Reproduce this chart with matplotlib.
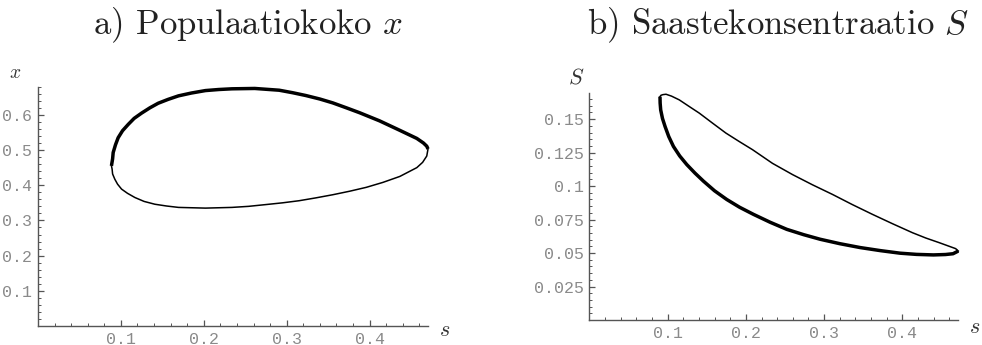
import matplotlib
matplotlib.use("Agg")
import matplotlib.pyplot as plt
from matplotlib.ticker import FixedLocator, FixedFormatter, MultipleLocator

plt.rcParams['mathtext.fontset'] = 'cm'

# ---- data: panel a) (s, x) ----
a_thick_s = [0.0886, 0.0900, 0.0907, 0.0935, 0.0967, 0.1020, 0.1089, 0.1160, 0.125, 0.135,
             0.145, 0.157, 0.1695, 0.185, 0.202, 0.218, 0.234, 0.2615, 0.291, 0.307,
             0.323, 0.340, 0.3556, 0.372, 0.388, 0.412, 0.4365, 0.457, 0.465, 0.469, 0.4705]
a_thick_x = [0.455, 0.475, 0.493, 0.515, 0.535, 0.555, 0.573, 0.590, 0.605, 0.620,
             0.633, 0.644, 0.654, 0.662, 0.669, 0.672, 0.674, 0.675, 0.670, 0.663,
             0.655, 0.645, 0.634, 0.620, 0.606, 0.583, 0.556, 0.533, 0.520, 0.511, 0.503]
a_thin_s = [0.4705, 0.469, 0.464, 0.457, 0.4365, 0.416, 0.396, 0.376, 0.3556, 0.335,
            0.315, 0.295, 0.2747, 0.254, 0.234, 0.202, 0.1695, 0.155, 0.141, 0.128,
            0.117, 0.108, 0.1008, 0.096, 0.0927, 0.090, 0.0894, 0.0886]
a_thin_x = [0.503, 0.483, 0.465, 0.450, 0.425, 0.408, 0.394, 0.383, 0.373, 0.364,
            0.356, 0.350, 0.345, 0.340, 0.337, 0.335, 0.337, 0.341, 0.346, 0.354,
            0.365, 0.377, 0.389, 0.403, 0.417, 0.432, 0.446, 0.455]

# ---- data: panel b) (s, S) ----
b_thick_s = [0.0903, 0.0905, 0.0912, 0.0935, 0.0968, 0.1015, 0.1075, 0.1155, 0.1245, 0.1350,
             0.1458, 0.160, 0.1756, 0.192, 0.2097, 0.231, 0.2523, 0.274, 0.2949, 0.320,
             0.346, 0.372, 0.397, 0.418, 0.4396, 0.455, 0.4647, 0.4714]
b_thick_S = [0.1668, 0.1620, 0.1569, 0.1505, 0.1445, 0.1370, 0.1296, 0.1225, 0.1161, 0.1097,
             0.1037, 0.0965, 0.0900, 0.0842, 0.0789, 0.0730, 0.0677, 0.0637, 0.0603, 0.0570,
             0.0541, 0.0518, 0.0499, 0.0490, 0.0486, 0.0489, 0.0495, 0.0515]
b_thin_s = [0.4714, 0.468, 0.4468, 0.430, 0.4128, 0.387, 0.3617, 0.336, 0.3106, 0.285,
            0.2596, 0.234, 0.2085, 0.1915, 0.1745, 0.1575, 0.1405, 0.1275, 0.1149, 0.105,
            0.098, 0.094, 0.0915, 0.0903]
b_thin_S = [0.0515, 0.0533, 0.0578, 0.0612, 0.0652, 0.0720, 0.0789, 0.0862, 0.0938, 0.1010,
            0.1086, 0.1170, 0.1272, 0.1333, 0.1396, 0.1470, 0.1545, 0.1595, 0.1644, 0.1672,
            0.1686, 0.1683, 0.1678, 0.1668]

# ---- ticks ----
s_ticks = [0.1, 0.2, 0.3, 0.4]
s_labels = ["0.1", "0.2", "0.3", "0.4"]
a_yticks = [0.1, 0.2, 0.3, 0.4, 0.5, 0.6]
a_ylabels = ["0.1", "0.2", "0.3", "0.4", "0.5", "0.6"]
b_yticks = [0.025, 0.05, 0.075, 0.1, 0.125, 0.15]
b_ylabels = ["0.025", "0.05", "0.075", "0.1", "0.125", "0.15"]

titles = [r"a) Populaatiokoko $x$", r"b) Saastekonsentraatio $S$"]

W, H = 982, 345
fig = plt.figure(figsize=(W / 100, H / 100), dpi=100)

def px_rect(x0, x1, ytop, ybot):
    return [x0 / W, 1 - ybot / H, (x1 - x0) / W, (ybot - ytop) / H]

axA = fig.add_axes(px_rect(38, 428, 86.7, 326))
axB = fig.add_axes(px_rect(589.3, 958.3, 93.3, 320))

axis_col = '#555555'
tick_col = '#8a8a8a'

def style(ax, xt, xl, yt, yl, ymin_step, xmax, ymax):
    ax.set_xlim(0, xmax)
    ax.set_ylim(0, ymax)
    for sp in ['top', 'right']:
        ax.spines[sp].set_visible(False)
    for sp in ['left', 'bottom']:
        ax.spines[sp].set_color(axis_col)
        ax.spines[sp].set_linewidth(1.0)
    ax.xaxis.set_major_locator(FixedLocator(xt))
    ax.xaxis.set_major_formatter(FixedFormatter(xl))
    ax.yaxis.set_major_locator(FixedLocator(yt))
    ax.yaxis.set_major_formatter(FixedFormatter(yl))
    ax.xaxis.set_minor_locator(MultipleLocator(0.02))
    ax.yaxis.set_minor_locator(MultipleLocator(ymin_step))
    ax.tick_params(which='major', direction='in', length=4, width=0.9, color=axis_col,
                   labelsize=12, labelcolor=tick_col, pad=4)
    ax.tick_params(which='minor', direction='in', length=2, width=0.7, color=axis_col)
    for lab in ax.get_xticklabels() + ax.get_yticklabels():
        lab.set_family('Liberation Mono')
    ax.patch.set_alpha(0)

style(axA, s_ticks, s_labels, a_yticks, a_ylabels, 0.02, 0.4705, 0.68)
style(axB, s_ticks, s_labels, b_yticks, b_ylabels, 0.005, 0.4714, 0.1693)

axA.plot(a_thick_s, a_thick_x, color='black', lw=2.5, solid_capstyle='butt', clip_on=False)
axA.plot(a_thin_s, a_thin_x, color='black', lw=1.1, clip_on=False)
axB.plot(b_thick_s, b_thick_S, color='black', lw=2.5, solid_capstyle='butt', clip_on=False)
axB.plot(b_thin_s, b_thin_S, color='black', lw=1.1, clip_on=False)

# titles
fig.text(248 / W, 1 - 25 / H, titles[0], ha='center', va='center', fontsize=25,
         family='cmr10', color='#222222')
fig.text(778 / W, 1 - 25 / H, titles[1], ha='center', va='center', fontsize=25,
         family='cmr10', color='#222222')

# axis labels
fig.text(15 / W, 1 - 73 / H, r"$x$", ha='center', va='center', fontsize=14, color='#333333')
fig.text(445 / W, 1 - 330 / H, r"$s$", ha='center', va='center', fontsize=16, color='#333333')
fig.text(576 / W, 1 - 78 / H, r"$S$", ha='center', va='center', fontsize=16, color='#333333')
fig.text(975 / W, 1 - 327 / H, r"$s$", ha='center', va='center', fontsize=16, color='#333333')

fig.savefig("out.png", dpi=100)
